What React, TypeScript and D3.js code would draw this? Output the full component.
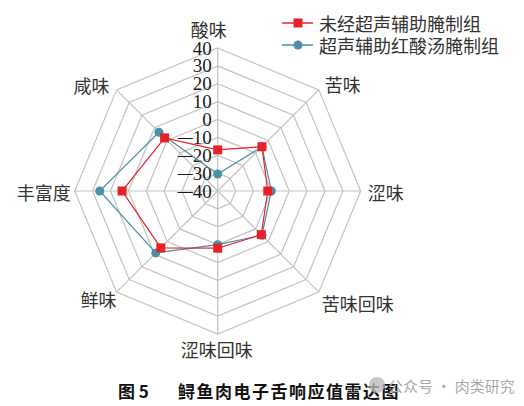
import React from "react";
import * as d3 from "d3";

const axes = ["酸味", "苦味", "涩味", "苦味回味", "涩味回味", "鲜味", "丰富度", "咸味"];
const seriesNames = ["未经超声辅助腌制组", "超声辅助红酸汤腌制组"];
const untreated = [-17, -5, -12, -5.5, -8, 5, 13.5, 2];
const ultrasound = [-30.5, -5, -10, -5, -10, 9, 26, 6.5];
const tickValues = [40, 30, 20, 10, 0, -10, -20, -30, -40];
const titleText = "鲟鱼肉电子舌响应值雷达图";
const figLabel = "图 5";
const watermark = "公众号 · 肉类研究";

const W = 524;
const H = 406;
const cx = 217.7;
const cy = 191;
const R = 143;

const labelOffsets: [number, number, string][] = [
  [-9, -19, "middle"],
  [6, -6, "start"],
  [7, 1, "start"],
  [3, 11, "start"],
  [-1, 15, "middle"],
  [0, 7, "end"],
  [-4, 1, "end"],
  [-7, -5, "end"],
];

const RED = "#e8202a";
const BLUE = "#4b8fa2";
const GRID = "#c3c3c3";
const CJK = "'Noto Sans CJK SC', 'Noto Sans', sans-serif";
const SERIF = "'Liberation Serif', 'DejaVu Serif', serif";

export default function App() {
  const r = d3.scaleLinear().domain([-40, 40]).range([0, R]);
  const ang = d3
    .scaleLinear()
    .domain([0, axes.length])
    .range([0, 2 * Math.PI]);
  const pt = (i: number, v: number): [number, number] => {
    const a = ang(i);
    return [cx + r(v) * Math.sin(a), cy - r(v) * Math.cos(a)];
  };
  const radial = d3
    .lineRadial<number>()
    .angle((_, i) => ang(i))
    .radius((d) => r(d))
    .curve(d3.curveLinearClosed);

  const rings = tickValues.filter((t) => t > -40);

  return (
    <svg width={W} height={H} style={{ position: "absolute", left: 0, top: 0, background: "#fff" }}>
      <g transform={`translate(${cx},${cy})`}>
        {rings.map((t) => (
          <path
            key={t}
            d={radial(axes.map(() => t)) || ""}
            fill="none"
            stroke={GRID}
            strokeWidth={1.2}
          />
        ))}
      </g>
      {axes.map((a, i) => {
        const [x, y] = pt(i, 40);
        return <line key={a} x1={cx} y1={cy} x2={x} y2={y} stroke={GRID} strokeWidth={1.2} />;
      })}
      {tickValues.map((t) => (
        <text
          key={t}
          x={211.7}
          y={cy - r(t)}
          textAnchor="end"
          dominantBaseline="central"
          fontFamily={SERIF}
          fontSize={19}
          fill="#1a1a1a"
        >
          {t < 0 ? (
            <>
              <tspan fontWeight="bold" fontSize={15}>
                —
              </tspan>
              <tspan>{Math.abs(t)}</tspan>
            </>
          ) : (
            String(t)
          )}
        </text>
      ))}
      {axes.map((a, i) => {
        const [x, y] = pt(i, 40);
        const [dx, dy, anchor] = labelOffsets[i];
        return (
          <text
            key={a}
            x={x + dx}
            y={y + dy}
            textAnchor={anchor as any}
            dominantBaseline="central"
            fontFamily={CJK}
            fontSize={18}
            fill="#333"
          >
            {a}
          </text>
        );
      })}
      <g transform={`translate(${cx},${cy})`}>
        <path d={radial(ultrasound) || ""} fill="none" stroke={BLUE} strokeWidth={1.2} />
        <path d={radial(untreated) || ""} fill="none" stroke={RED} strokeWidth={1.2} />
      </g>
      {ultrasound.map((v, i) => {
        const [x, y] = pt(i, v);
        return <circle key={"b" + i} cx={x} cy={y} r={4.5} fill={BLUE} />;
      })}
      {untreated.map((v, i) => {
        const [x, y] = pt(i, v);
        return <rect key={"r" + i} x={x - 4.5} y={y - 4.5} width={9} height={9} fill={RED} />;
      })}
      {/* legend */}
      <line x1={282} y1={23} x2={313} y2={23} stroke={RED} strokeWidth={1.5} />
      <rect x={293.5} y={18.5} width={9} height={9} fill={RED} />
      <text x={319} y={23} dominantBaseline="central" fontFamily={CJK} fontSize={18} fill="#333">
        {seriesNames[0]}
      </text>
      <line x1={282} y1={45} x2={313} y2={45} stroke={BLUE} strokeWidth={1.5} />
      <circle cx={298} cy={45} r={4.5} fill={BLUE} />
      <text x={319} y={45} dominantBaseline="central" fontFamily={CJK} fontSize={18} fill="#333">
        {seriesNames[1]}
      </text>
      {/* title */}
      <text x={118} y={390} dominantBaseline="central" fontFamily={CJK} fontWeight={700} fontSize={17} fill="#111">
        {figLabel}
      </text>
      <text x={178} y={390} dominantBaseline="central" fontFamily={CJK} fontWeight={700} fontSize={17} fill="#111" letterSpacing={1.5}>
        {titleText}
      </text>
      <circle cx={377} cy={385} r={8} fill="#bbb" opacity={0.8} />
      <text x={388} y={385} dominantBaseline="central" fontFamily={CJK} fontSize={15} fill="#aaa">
        {watermark}
      </text>
    </svg>
  );
}
